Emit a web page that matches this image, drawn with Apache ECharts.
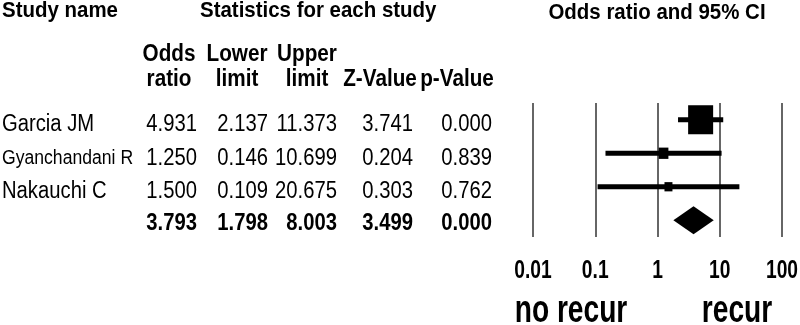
<!DOCTYPE html>
<html>
<head>
<meta charset="utf-8">
<script src="https://cdn.jsdelivr.net/npm/echarts@6/dist/echarts.min.js"></script>
<style>
  html, body { margin: 0; padding: 0; background: #fff; }
  #main { width: 800px; height: 325px; }
</style>
</head>
<body>
<div id="main"></div>
<script>
// 数据
var studies = ['Garcia JM', 'Gyanchandani R', 'Nakauchi C'];
var oddsRatio = [4.931, 1.250, 1.500];
var lowerLimit = [2.137, 0.146, 0.109];
var upperLimit = [11.373, 10.699, 20.675];
var zValue = [3.741, 0.204, 0.303];
var pValue = [0.000, 0.839, 0.762];
var weights = [79.8, 12.1, 8.1];   // 相对权重 (%)，决定方块大小
var summaryRow = [3.793, 1.798, 8.003, 3.499, 0.000]; // OR, lower, upper, Z, p
var ticks = [0.01, 0.1, 1, 10, 100];

var FONT = '"Liberation Sans", Arial, sans-serif';
var rows = studies.concat(['Overall']);

var chart = echarts.init(document.getElementById('main'));

var studyData = [];
for (var i = 0; i < studies.length; i++) {
    studyData.push([oddsRatio[i], lowerLimit[i], upperLimit[i], i, weights[i]]);
}

var option = {
    animation: false,
    backgroundColor: '#fff',
    grid: { left: 533, right: 18, top: 103, bottom: 88 },
    xAxis: {
        type: 'log',
        logBase: 10,
        min: 0.01,
        max: 100,
        interval: 1,
        axisLine: { show: false },
        axisTick: { show: false },
        axisLabel: { show: false },
        splitLine: { show: true, lineStyle: { color: '#333', width: 1.5 } }
    },
    yAxis: {
        type: 'category',
        data: rows,
        inverse: true,
        show: false
    },
    series: [
        {
            type: 'custom',
            name: 'studies',
            data: studyData,
            renderItem: function (params, api) {
                var row = api.value(3);
                var c = api.coord([api.value(0), row]);
                var l = api.coord([api.value(1), row]);
                var u = api.coord([api.value(2), row]);
                var w = 2.8 * Math.sqrt(api.value(4));
                var h = w * 1.16;
                return {
                    type: 'group',
                    children: [
                        { type: 'line', shape: { x1: l[0], y1: l[1], x2: u[0], y2: u[1] },
                          style: { stroke: '#000', lineWidth: 5 } },
                        { type: 'rect', shape: { x: c[0] - w / 2, y: c[1] - h / 2, width: w, height: h },
                          style: { fill: '#000' } }
                    ]
                };
            }
        },
        {
            type: 'custom',
            name: 'overall',
            data: [[summaryRow[0], summaryRow[1], summaryRow[2], 3]],
            renderItem: function (params, api) {
                var row = api.value(3);
                var c = api.coord([api.value(0), row]);
                var l = api.coord([api.value(1), row]);
                var u = api.coord([api.value(2), row]);
                return {
                    type: 'polygon',
                    shape: { points: [[l[0], l[1]], [c[0], c[1] - 14], [u[0], u[1]], [c[0], c[1] + 14]] },
                    style: { fill: '#000' }
                };
            }
        }
    ]
};
chart.setOption(option);

function txt(s, x, y, size, bold, align, sx) {
    return {
        type: 'text', x: x, y: y, scaleX: sx, silent: true,
        style: {
            text: s, x: 0, y: 0, fill: '#000',
            fontSize: size, fontWeight: bold ? 'bold' : 'normal', fontFamily: FONT,
            align: align, verticalAlign: 'middle'
        }
    };
}

var g = [];
// 标题行
g.push(txt('Study name', 2, 11, 22, true, 'left', 0.93));
g.push(txt('Statistics for each study', 200, 11, 22, true, 'left', 0.93));
g.push(txt('Odds ratio and 95% CI', 657, 13, 22, true, 'center', 0.93));
// 列标题
var colRight = [197, 268, 337, 413, 492];
var head1 = ['Odds', 'Lower', 'Upper', '', ''];
var head2 = ['ratio', 'limit', 'limit', 'Z-Value', 'p-Value'];
var headCenter = [169, 237, 307, 380, 457];
for (var k = 0; k < 5; k++) {
    if (head1[k]) g.push(txt(head1[k], headCenter[k], 55, 23, true, 'center', 0.9));
    g.push(txt(head2[k], headCenter[k], 80, 23, true, 'center', 0.9));
}
// 表格
for (var i = 0; i < studies.length; i++) {
    var y = chart.convertToPixel({ yAxisIndex: 0 }, i) + 5;
    g.push(txt(studies[i], 2, y, i === 1 ? 20 : 23, false, 'left', 0.88));
    var vals = [oddsRatio[i], lowerLimit[i], upperLimit[i], zValue[i], pValue[i]];
    for (var k = 0; k < 5; k++) {
        g.push(txt(vals[k].toFixed(3), colRight[k], y, 23, false, 'right', 0.88));
    }
}
var ys = chart.convertToPixel({ yAxisIndex: 0 }, 3) + 3;
for (var k = 0; k < 5; k++) {
    g.push(txt(summaryRow[k].toFixed(3), colRight[k], ys, 23, true, 'right', 0.88));
}
// 刻度标签
for (var t = 0; t < ticks.length; t++) {
    var x = chart.convertToPixel({ xAxisIndex: 0 }, ticks[t]);
    g.push(txt(String(ticks[t]), x, 271, 25, true, 'center', 0.77));
}
g.push(txt('no recur', 571, 312, 38, true, 'center', 0.74));
g.push(txt('recur', 737, 312, 38, true, 'center', 0.74));

chart.setOption({ graphic: g });
</script>
</body>
</html>
